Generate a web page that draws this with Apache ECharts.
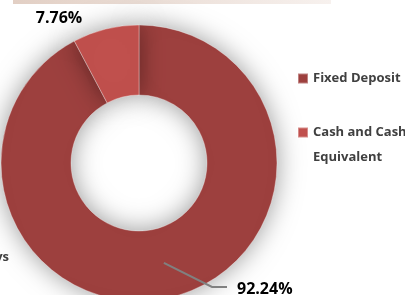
<!DOCTYPE html>
<html>
<head>
<meta charset="utf-8">
<style>
  html, body { margin: 0; padding: 0; background: #fff; }
  #chart { width: 405px; height: 295px; }
</style>
<script src="https://cdn.jsdelivr.net/npm/echarts@6/dist/echarts.min.js"></script>
</head>
<body>
<div id="chart"></div>
<script>
// data
const categories = ['Fixed Deposit', 'Cash and Cash Equivalent']
const shares = [92.24, 7.76]
const sliceColors = ['#9D403E', '#C0504D']

const chart = echarts.init(document.getElementById('chart'))

const center = [139, 163]
const midRadius = 103

const pieData = categories.map((name, i) => ({
  name,
  value: shares[i],
  itemStyle: { color: sliceColors[i] }
}))

const fontFamily = '"Open Sans", Lato, sans-serif'
const legendText = { fontFamily, fontWeight: 'bold', fontSize: 13, color: '#404040' }

// anchor of the big slice's leader line: middle of the band, middle of the slice
const total = shares.reduce((a, b) => a + b, 0)
const midAngle = (90 - shares[0] / total * 180) * Math.PI / 180
const anchor = [center[0] + midRadius * Math.cos(midAngle), center[1] - midRadius * Math.sin(midAngle)]

chart.setOption({
  animation: false,
  graphic: [
    {
      type: 'rect',
      shape: { x: 13, y: 0, width: 318, height: 4 },
      style: {
        fill: new echarts.graphic.LinearGradient(0, 0, 1, 0, [
          { offset: 0, color: '#E2CFC4' },
          { offset: 1, color: '#F7F1EE' }
        ])
      }
    },
    {
      type: 'text',
      style: { text: 'Days', x: 9, y: 257, align: 'right', verticalAlign: 'middle', font: 'bold 13px ' + fontFamily, fill: '#404040' }
    }
  ],
  legend: [
    {
      data: [categories[0]],
      left: 297,
      top: 72,
      padding: 0,
      icon: 'rect',
      itemWidth: 10,
      itemHeight: 10,
      selectedMode: false,
      textStyle: legendText
    },
    {
      data: [categories[1]],
      left: 297,
      top: 95,
      padding: 0,
      icon: 'rect',
      itemWidth: 10,
      itemHeight: 10,
      selectedMode: false,
      // blank first line keeps the marker level with "Cash and Cash"
      formatter: () => '\nCash and Cash\nEquivalent',
      textStyle: Object.assign({ lineHeight: 25 }, legendText)
    }
  ],
  series: [
    {
      type: 'pie',
      center,
      radius: [68, 138],
      startAngle: 90,
      clockwise: true,
      silent: true,
      label: { show: false },
      labelLine: { show: false },
      itemStyle: {
        borderColor: 'rgba(255,255,255,0.35)',
        borderWidth: 1,
        shadowBlur: 26,
        shadowColor: 'rgba(0,0,0,0.4)'
      },
      data: pieData
    },
    {
      // transparent helper ring carrying the labels
      type: 'pie',
      center,
      radius: [0, midRadius],
      startAngle: 90,
      clockwise: true,
      silent: true,
      z: 5,
      itemStyle: { color: 'rgba(0,0,0,0)' },
      label: {
        show: true,
        position: 'outside',
        formatter: p => p.value.toFixed(2) + '%',
        fontFamily,
        fontWeight: 'bold',
        fontSize: 16,
        color: '#000'
      },
      labelLine: { show: true, lineStyle: { color: '#808080', width: 2 } },
      labelLayout: params => {
        if (params.dataIndex === 0) {
          return {
            x: 237, y: 289, align: 'left', verticalAlign: 'middle',
            labelLinePoints: [anchor, [212, 287], [227, 287]]
          }
        }
        return { x: 59, y: 18, align: 'center', verticalAlign: 'middle' }
      },
      data: categories.map((name, i) => ({
        name,
        value: shares[i],
        labelLine: { show: i === 0 }
      }))
    }
  ]
})
</script>
</body>
</html>
